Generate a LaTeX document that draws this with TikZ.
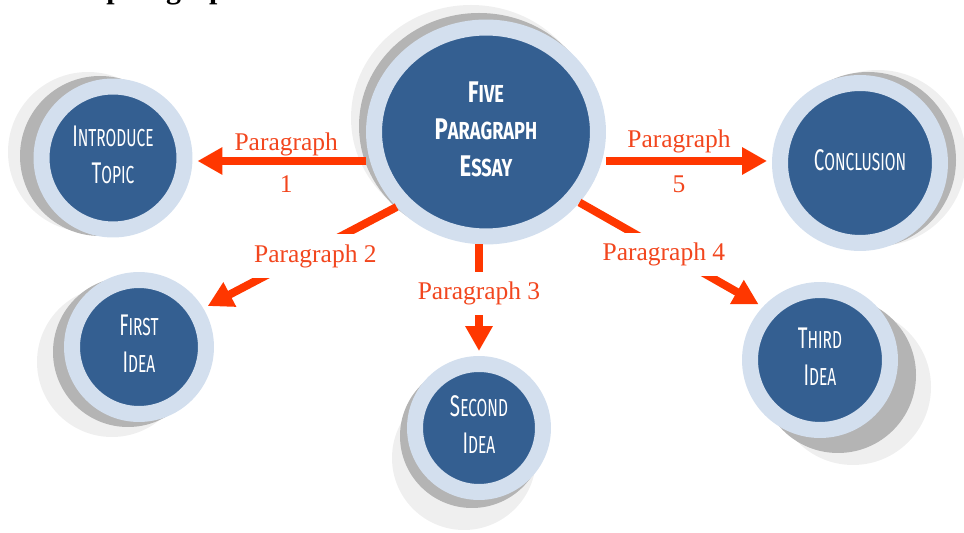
\documentclass[tikz,border=0pt]{standalone}
\usepackage{fontspec}
\usepackage{graphicx}
\usetikzlibrary{arrows.meta,shapes.geometric,backgrounds}
\newfontfamily\parafont{Liberation Serif}
\newfontfamily\bubblefont{Fira Sans}
\definecolor{essayblue}{HTML}{345F91}
\definecolor{ringblue}{HTML}{D3DFEE}
\definecolor{shadowgray}{HTML}{B4B4B4}
\definecolor{shadowlight}{HTML}{EFEFEF}
\definecolor{paraorange}{HTML}{FF3700}
\definecolor{labelorange}{HTML}{F2461E}
% small-caps look: bigger first letter
\newcommand{\capword}[2]{{\fontsize{17}{21}\selectfont #1}#2}
\newcommand{\bubbletext}[2][0.63]{\scalebox{#1}[1]{\fontsize{14}{21}\selectfont\begin{tabular}{@{}c@{}}#2\end{tabular}}}

\begin{document}
\begin{tikzpicture}[x=0.02cm, y=-0.02cm,
    bubble/.style={circle, fill=essayblue, draw=ringblue, line width=0.32cm, inner sep=0pt, text=white, font=\bubblefont},
    arr/.style={draw=paraorange, line width=0.16cm, -{Triangle[length=0.5cm,width=0.52cm]}, shorten >=0.1cm},
    paralabel/.style={text=labelorange, font=\parafont\fontsize{14.5}{16}\selectfont},
    gaplabel/.style={paralabel, fill=white, inner xsep=1pt, inner ysep=0.2cm}]
    \useasboundingbox (0,0) rectangle (964,533);

    % heading, cut off by the top edge
    \begin{scope}
        \clip (0,0) rectangle (964,533);
        \node[anchor=base west, inner sep=0pt, font=\parafont\bfseries\fontsize{17}{20}\selectfont] (heading) at (106,-1.5) {paragraph};
    \end{scope}

    % Bubbles
    \node[bubble, ellipse, minimum width=4.48cm, minimum height=4.18cm, font=\bubblefont\bfseries] (essay) at (486,132)
        {\bubbletext[0.74]{\capword{F}{IVE}\\ \capword{P}{ARAGRAPH}\\ \capword{E}{SSAY}}};
    \node[bubble, minimum size=2.86cm] (intro) at (113,158) {\bubbletext{\capword{I}{NTRODUCE}\\ \capword{T}{OPIC}}};
    \node[bubble, minimum size=3.2cm] (concl) at (860,163) {\bubbletext{\capword{C}{ONCLUSION}}};
    \node[bubble, minimum size=2.68cm] (first) at (139,347) {\bubbletext{\capword{F}{IRST}\\ \capword{I}{DEA}}};
    \node[bubble, minimum size=2.56cm] (second) at (479,428) {\bubbletext{\capword{S}{ECOND}\\ \capword{I}{DEA}}};
    \node[bubble, minimum size=2.8cm] (third) at (820,360) {\bubbletext{\capword{T}{HIRD}\\ \capword{I}{DEA}}};

    % Shadows behind the bubbles
    \begin{scope}[on background layer]
        \fill[shadowlight] ([shift={(-15,-14)}]essay.center) ellipse (120 and 113);
        \fill[shadowgray] ([shift={(-7,-6)}]essay.center) ellipse (120 and 113);
        \fill[shadowlight] ([shift={(-25,-6)}]intro.center) circle (80);
        \fill[shadowgray] ([shift={(-13,-2)}]intro.center) circle (80);
        \fill[shadowlight] ([shift={(18,-5)}]concl.center) circle (88);
        \fill[shadowgray] ([shift={(8,-3)}]concl.center) circle (88);
        \fill[shadowlight] ([shift={(-27,15)}]first.center) circle (75);
        \fill[shadowgray] ([shift={(-11,5)}]first.center) circle (75);
        \fill[shadowlight] ([shift={(-15,30)}]second.center) circle (72);
        \fill[shadowgray] ([shift={(-7,8)}]second.center) circle (72);
        \fill[shadowlight] ([shift={(33,27)}]third.center) circle (78);
        \fill[shadowgray] ([shift={(18,15)}]third.center) circle (78);
    \end{scope}

    % Paragraph arrows
    \draw[arr] ([yshift=-0.06cm]essay.west |- intro.center) -- node[paralabel, pos=0.46, above=-0.1cm] {Paragraph}
        node[paralabel, pos=0.46, below=0.1cm] {1} ([yshift=-0.06cm]intro.east);
    \draw[arr] ([yshift=0.04cm]essay.east |- concl.center) -- node[paralabel, pos=0.44, above=-0.04cm] {Paragraph}
        node[paralabel, pos=0.44, below=0.1cm] {5} ([yshift=0.04cm]concl.west);
    \draw[arr] (essay.220) -- node[gaplabel, pos=0.42, yshift=-0.13cm] {Paragraph 2} (first.31);
    \draw[arr] (essay.south -| second.center) -- node[gaplabel, pos=0.44] {Paragraph 3} (second);
    \draw[arr] (essay.-37) -- node[gaplabel, pos=0.46, yshift=-0.08cm] {Paragraph 4} (third.137);
\end{tikzpicture}
\end{document}
